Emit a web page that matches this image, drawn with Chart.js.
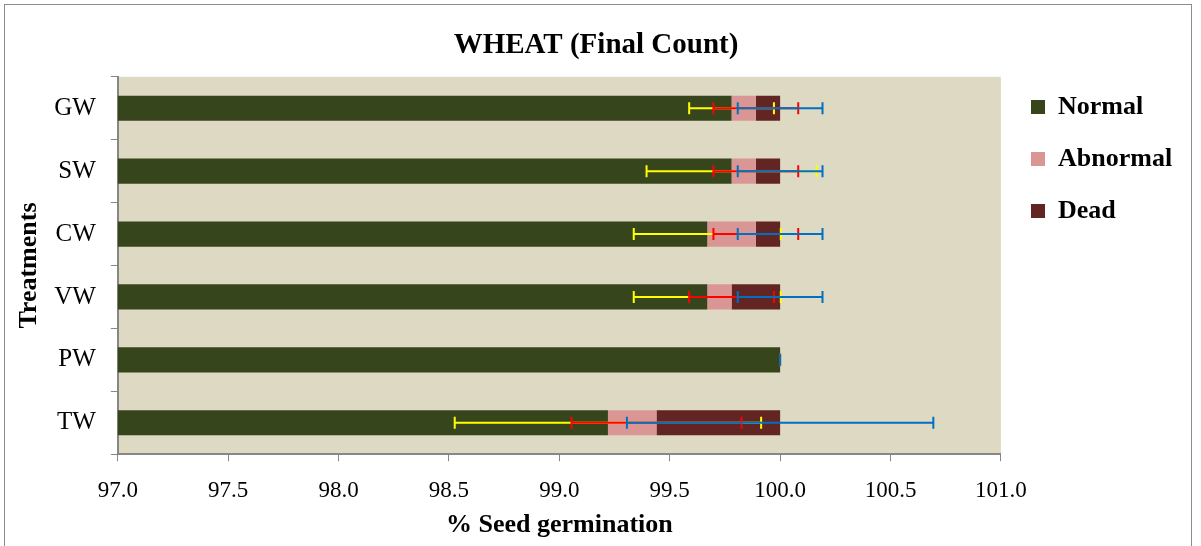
<!DOCTYPE html>
<html>
<head>
<meta charset="utf-8">
<script src="https://cdn.jsdelivr.net/npm/chart.js@4.4.1/dist/chart.umd.min.js"></script>
<style>
  html, body { margin: 0; padding: 0; background: #fff; }
  #wrap { position: relative; width: 1201px; height: 546px; overflow: hidden; }
  #frame { position: absolute; left: 4px; top: 4px; width: 1186px; height: 560px; border: 1px solid #8c8c8c; pointer-events: none; }
  canvas { position: absolute; left: 0; top: 0; }
</style>
</head>
<body>
<div id="wrap">
  <canvas id="wheat" width="1201" height="546"></canvas>
  <div id="frame"></div>
</div>
<script>
const treatments = ['GW', 'SW', 'CW', 'VW', 'PW', 'TW'];
const normal   = [99.78, 99.78, 99.67, 99.67, 100, 99.22];
const abnormal = [0.11, 0.11, 0.22, 0.11, 0, 0.22];
const dead     = [0.11, 0.11, 0.11, 0.22, 0, 0.56];
const normalErr   = [0.192, 0.385, 0.333, 0.333, 0, 0.694];
const abnormalErr = [0.192, 0.192, 0.192, 0.192, 0, 0.385];
const deadErr     = [0.192, 0.192, 0.192, 0.192, 0, 0.694];
const xTicks = [97, 97.5, 98, 98.5, 99, 99.5, 100, 100.5, 101];

const errColors = ['#ffff00', '#ff0000', '#0070c0'];
const errData = [normalErr, abnormalErr, deadErr];

const serif = "'Liberation Serif', 'Times New Roman', serif";

// plot area fill
const plotBg = {
  id: 'plotBg',
  beforeDraw(chart) {
    const a = chart.chartArea, ctx = chart.ctx;
    ctx.save();
    ctx.fillStyle = '#ddd9c3';
    ctx.fillRect(a.left, a.top, a.right - a.left, a.bottom - a.top);
    ctx.restore();
  }
};

// move the legend next to the top of the plot
const legendSpot = {
  id: 'legendSpot',
  afterLayout(chart) {
    const lg = chart.legend;
    lg.top = 68;
    lg.left = 1005;
  }
};

// error bars at the end of each stacked segment
const errorBars = {
  id: 'errorBars',
  afterDatasetsDraw(chart) {
    const ctx = chart.ctx, xs = chart.scales.x;
    ctx.save();
    ctx.lineWidth = 2;
    for (let d = 0; d < 3; d++) {
      const meta = chart.getDatasetMeta(d);
      ctx.strokeStyle = errColors[d];
      meta.data.forEach((bar, i) => {
        let end = normal[i];
        if (d > 0) end += abnormal[i];
        if (d > 1) end += dead[i];
        const e = errData[d][i];
        const x0 = xs.getPixelForValue(end - e);
        const x1 = xs.getPixelForValue(end + e);
        const y = bar.y, h = 6;
        ctx.beginPath();
        ctx.moveTo(x0, y); ctx.lineTo(x1, y);
        ctx.moveTo(x0, y - h); ctx.lineTo(x0, y + h);
        ctx.moveTo(x1, y - h); ctx.lineTo(x1, y + h);
        ctx.stroke();
      });
    }
    ctx.restore();
  }
};

new Chart(document.getElementById('wheat'), {
  type: 'bar',
  data: {
    labels: treatments,
    datasets: [
      { label: 'Normal', data: normal, backgroundColor: '#37451c' },
      { label: 'Abnormal', data: abnormal, backgroundColor: '#da9694' },
      { label: 'Dead', data: dead, backgroundColor: '#632523' }
    ]
  },
  options: {
    indexAxis: 'y',
    responsive: false,
    animation: false,
    layout: { padding: { left: 14, right: 23, top: 10, bottom: 5 } },
    datasets: { bar: { categoryPercentage: 1, barPercentage: 0.4 } },
    scales: {
      x: {
        stacked: true,
        min: 97, max: 101,
        afterBuildTicks(axis) { axis.ticks = xTicks.map(v => ({ value: v })); },
        ticks: {
          color: '#000', padding: 16,
          font: { family: serif, size: 23 },
          callback: v => Number(v).toFixed(1)
        },
        grid: { drawOnChartArea: false, tickLength: 7, color: '#868686' },
        border: { color: '#868686', width: 2 },
        title: { display: true, text: '% Seed germination', color: '#000', font: { family: serif, size: 26, weight: 'bold' }, padding: { top: -11, bottom: 0 } }
      },
      y: {
        stacked: true,
        ticks: { color: '#000', padding: 15, font: { family: serif, size: 25 } },
        grid: { drawOnChartArea: false, tickLength: 7, color: '#868686', offset: true },
        border: { color: '#868686', width: 2 },
        title: { display: true, text: 'Treatments', color: '#000', font: { family: serif, size: 26, weight: 'bold' }, padding: { top: 0, bottom: -6 } }
      }
    },
    plugins: {
      title: { display: true, text: 'WHEAT (Final Count)', color: '#000', font: { family: serif, size: 29, weight: 'bold' }, padding: { top: 18, bottom: 14 } },
      legend: {
        position: 'right', align: 'start',
        labels: { color: '#000', boxWidth: 14, boxHeight: 14, padding: 26, font: { family: serif, size: 26, weight: 'bold' } }
      },
      tooltip: { enabled: false }
    }
  },
  plugins: [plotBg, legendSpot, errorBars]
});
</script>
</body>
</html>
